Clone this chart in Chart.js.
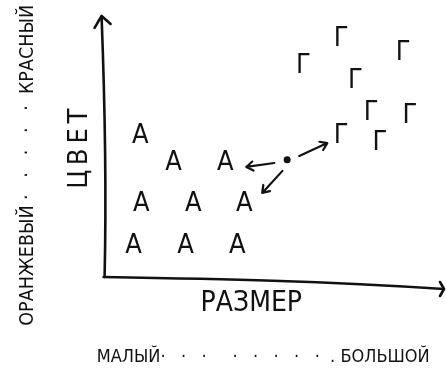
<!DOCTYPE html>
<html>
<head>
<meta charset="utf-8">
<script src="https://cdn.jsdelivr.net/npm/chart.js@4/dist/chart.umd.min.js"></script>
<style>
  html, body { margin: 0; padding: 0; background: #fff; }
  #wrap { width: 446px; height: 373px; position: relative; }
</style>
</head>
<body>
<div id="wrap"><canvas id="chart"></canvas></div>
<script>
// size (x) and colour (y), both on a 0..100 scale
const orangeSize  = [11.2, 21.0, 36.4, 11.5, 26.9, 42.0, 9.2, 24.6, 39.9];
const orangeColor = [54.2, 43.9, 43.9, 28.2, 28.2, 28.2, 12.2, 12.2, 12.2];

const redSize  = [59.5, 70.7, 89.1, 74.9, 79.6, 91.1, 70.7, 82.2];
const redColor = [80.9, 91.2, 85.9, 75.2, 63.0, 61.8, 54.2, 51.5];

const newSize  = [54.7];
const newColor = [44.7];

// arrows from the new point toward its neighbours
const arrowFromX = [50.9, 53.3, 58.3];
const arrowFromY = [43.5, 40.5, 46.2];
const arrowToX   = [42.6, 47.3, 66.6];
const arrowToY   = [42.0, 32.1, 51.1];

const NB = '\u00A0';
const xTitle = 'РАЗМЕР' + NB.repeat(5);
const yTitle = 'Ц\u2009В\u2009Е\u2009Т' + NB.repeat(2);
const xRange = 'МАЛЫЙ·   ·   ·     ·   ·   ·   ·   ·  . БОЛЬШОЙ' + NB + NB;
const yRange = 'ОРАНЖЕВЫЙ ·   ·   ·   ·   ·  КРАСНЫЙ';

const FONT = "'DejaVu Sans Condensed', 'DejaVu Sans', sans-serif";
const INK = '#111';

const toPoints = (xs, ys) => xs.map((x, i) => ({ x: x, y: ys[i] }));

// sketchy axes with arrow heads, plus the arrows and the letter markers
const sketchPlugin = {
  id: 'sketch',
  beforeDatasetsDraw(chart) {
    const { ctx, scales: { x, y } } = chart;
    const left = x.getPixelForValue(0), right = x.getPixelForValue(100);
    const bottom = y.getPixelForValue(0), top = y.getPixelForValue(100);
    ctx.save();
    ctx.strokeStyle = INK;
    ctx.lineWidth = 2.6;
    ctx.lineCap = 'round';
    ctx.lineJoin = 'round';

    // vertical axis
    ctx.beginPath();
    ctx.moveTo(left + 2, bottom);
    ctx.bezierCurveTo(left + 4, bottom - 90, left + 2, top + 80, left - 1, top + 2);
    ctx.stroke();
    ctx.beginPath();
    ctx.moveTo(left - 8, top + 13);
    ctx.lineTo(left - 1, top + 1);
    ctx.lineTo(left + 8, top + 9);
    ctx.stroke();

    // horizontal axis
    ctx.beginPath();
    ctx.moveTo(left + 1, bottom);
    ctx.bezierCurveTo(left + 120, bottom + 2, left + 220, bottom + 4, right + 4, bottom + 12);
    ctx.stroke();
    ctx.beginPath();
    ctx.moveTo(right, bottom + 5);
    ctx.lineTo(right + 4, bottom + 12);
    ctx.lineTo(right, bottom + 19);
    ctx.stroke();
    ctx.restore();
  },
  afterDatasetsDraw(chart) {
    const { ctx, scales: { x, y } } = chart;
    ctx.save();
    ctx.strokeStyle = INK;
    ctx.lineWidth = 2.2;
    ctx.lineCap = 'round';
    ctx.lineJoin = 'round';
    arrowFromX.forEach((fx, i) => {
      const x0 = x.getPixelForValue(fx), y0 = y.getPixelForValue(arrowFromY[i]);
      const x1 = x.getPixelForValue(arrowToX[i]), y1 = y.getPixelForValue(arrowToY[i]);
      const ang = Math.atan2(y1 - y0, x1 - x0);
      ctx.beginPath();
      ctx.moveTo(x0, y0);
      ctx.lineTo(x1, y1);
      ctx.moveTo(x1 - 8 * Math.cos(ang - 0.6), y1 - 8 * Math.sin(ang - 0.6));
      ctx.lineTo(x1, y1);
      ctx.lineTo(x1 - 8 * Math.cos(ang + 0.6), y1 - 8 * Math.sin(ang + 0.6));
      ctx.stroke();
    });

    // letters in place of point markers
    ctx.fillStyle = INK;
    ctx.font = '27px ' + FONT;
    ctx.textAlign = 'center';
    ctx.textBaseline = 'middle';
    chart.data.datasets.forEach((ds, i) => {
      if (!ds.glyph) return;
      chart.getDatasetMeta(i).data.forEach(pt => {
        ctx.fillText(ds.glyph, pt.x, pt.y + 1);
      });
    });
    ctx.restore();
  }
};

new Chart(document.getElementById('chart'), {
  type: 'scatter',
  data: {
    datasets: [
      { label: 'Оранжевый', glyph: 'А', data: toPoints(orangeSize, orangeColor), pointRadius: 0 },
      { label: 'Красный', glyph: 'Г', data: toPoints(redSize, redColor), pointRadius: 0 },
      { label: 'Новый', data: toPoints(newSize, newColor), pointRadius: 3.5,
        backgroundColor: INK, borderColor: INK, borderWidth: 0 }
    ]
  },
  options: {
    responsive: true,
    maintainAspectRatio: false,
    animation: false,
    events: [],
    layout: { padding: { top: 5, right: 6, bottom: 0, left: 0 } },
    scales: {
      x: {
        type: 'linear', min: 0, max: 100,
        grid: { display: false, drawTicks: false },
        border: { display: false },
        ticks: { display: false },
        title: { display: true, text: xTitle, color: INK,
          font: { family: FONT, size: 28, lineHeight: 1.2 }, padding: { top: 10.2, bottom: 3 } }
      },
      y: {
        type: 'linear', min: 0, max: 103.8,
        grid: { display: false, drawTicks: false },
        border: { display: false },
        ticks: { display: false },
        title: { display: true, text: yTitle, color: INK,
          font: { family: FONT, size: 27, lineHeight: 1.2 }, padding: { top: 20.1, bottom: 6.4 } }
      }
    },
    plugins: {
      legend: { display: false },
      tooltip: { enabled: false },
      title: {
        display: true, position: 'bottom', align: 'end', text: xRange, color: INK,
        font: { family: FONT, size: 18, weight: 'normal', lineHeight: 1.2 },
        padding: { top: 22.4, bottom: 5.2 }
      },
      subtitle: {
        display: true, position: 'left', align: 'end', text: yRange, color: INK,
        font: { family: FONT, size: 19.5, weight: 'normal', lineHeight: 1.2 },
        padding: { top: 16.3, bottom: 4 }
      }
    }
  },
  plugins: [sketchPlugin]
});
</script>
</body>
</html>
